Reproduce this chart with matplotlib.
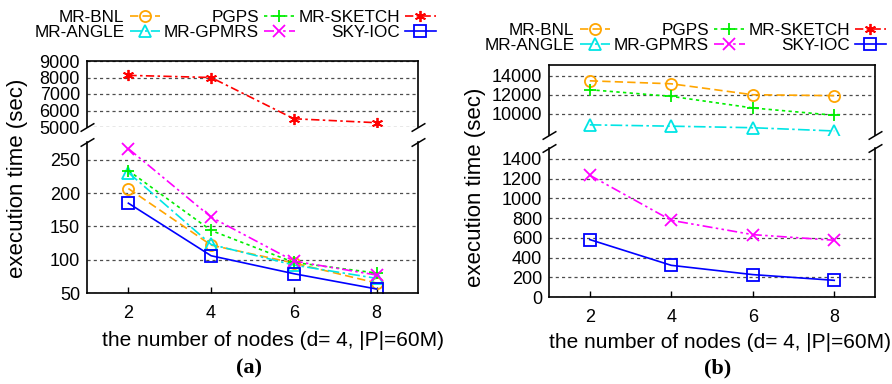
import matplotlib
matplotlib.use("Agg")
import matplotlib.pyplot as plt
from matplotlib.ticker import MultipleLocator

plt.rcParams['font.family'] = ['Liberation Sans', 'DejaVu Sans']

nodes = [2, 4, 6, 8]
series = ["MR-BNL", "MR-ANGLE", "PGPS", "MR-GPMRS", "MR-SKETCH", "SKY-IOC"]

# panel (a)
a_bnl = [207, 122, 95, 65]
a_angle = [231, 123, 92, 72]
a_pgps = [234, 144, 96, 80]
a_gpmrs = [267, 164, 98, 77]
a_sketch = [8130, 8000, 5500, 5260]
a_sky = [185, 106, 79, 56]

# panel (b)
b_bnl = [13450, 13140, 12000, 11900]
b_angle = [8860, 8720, 8560, 8220]
b_pgps = [12520, 11830, 10620, 9860]
b_gpmrs = [1234, 777, 632, 575]
b_sketch = []
b_sky = [582, 321, 227, 169]

styles = {
    "MR-BNL": dict(color='#FFA500', ls=(0, (5, 2.5)), marker='o'),
    "MR-ANGLE": dict(color='#00E5E5', ls=(0, (7, 2, 1.5, 2)), marker='^'),
    "PGPS": dict(color='#00EE00', ls=(0, (2, 2)), marker='+'),
    "MR-GPMRS": dict(color='#FF00FF', ls=(0, (6, 2, 1.5, 2, 1.5, 2)), marker='x'),
    "MR-SKETCH": dict(color='#FF0000', ls=(0, (5, 2, 1.5, 2)), marker=(6, 2, 0)),
    "SKY-IOC": dict(color='#0000FF', ls='-', marker='s'),
}

W, H = 892, 384
fig = plt.figure(figsize=(W / 100, H / 100), dpi=100)

def box(x0, x1, ytop, ybot):
    return [x0 / W, 1 - ybot / H, (x1 - x0) / W, (ybot - ytop) / H]

def style_axes(ax, top_part):
    for s in ax.spines.values():
        s.set_linewidth(1.2)
    if top_part:
        ax.spines['bottom'].set_visible(False)
        ax.tick_params(axis='x', which='both', bottom=False, labelbottom=False)
    else:
        ax.spines['top'].set_visible(False)
        ax.tick_params(axis='x', direction='in', length=4, width=1, labelsize=13, pad=9, top=False)
    ax.tick_params(axis='y', direction='in', length=0, labelsize=13, pad=5)
    ax.grid(axis='y', color='0.3', ls=(0, (2.5, 2.5)), lw=0.9)
    ax.set_axisbelow(True)
    ax.set_xlim(1, 9)
    ax.set_xticks(nodes)

def breaks(ax, y):
    kw = dict(transform=ax.transAxes, color='k', clip_on=False, lw=1.1,
              marker=[(-1, -0.6), (1, 0.6)], markersize=10, mew=1.1, ls='none')
    ax.plot([0, 1], [y, y], **kw)

def draw_panel(x0, x1, top_box, bot_box, top_lim, bot_lim, top_step, bot_step, data):
    axt = fig.add_axes(box(x0, x1, *top_box))
    axb = fig.add_axes(box(x0, x1, *bot_box))
    handles = {}
    for ax in (axt, axb):
        for name in series:
            st = styles[name]
            vals = data[name]
            xs = nodes[:len(vals)]
            ln, = ax.plot(xs, vals, color=st['color'], ls=st['ls'], lw=1.2,
                          marker=st['marker'], markersize=8, mfc='none', mew=1.3)
            handles[name] = ln
    axt.set_ylim(*top_lim)
    axb.set_ylim(*bot_lim)
    axt.yaxis.set_major_locator(MultipleLocator(top_step))
    axb.yaxis.set_major_locator(MultipleLocator(bot_step))
    style_axes(axt, True)
    style_axes(axb, False)
    breaks(axt, 0)
    breaks(axb, 1)
    return axt, axb, handles

dA = {"MR-BNL": a_bnl, "MR-ANGLE": a_angle, "PGPS": a_pgps,
      "MR-GPMRS": a_gpmrs, "MR-SKETCH": a_sketch, "SKY-IOC": a_sky}
dB = {"MR-BNL": b_bnl, "MR-ANGLE": b_angle, "PGPS": b_pgps,
      "MR-GPMRS": b_gpmrs, "MR-SKETCH": b_sketch, "SKY-IOC": b_sky}

at, ab, hA = draw_panel(87, 418, (61, 127), (142, 293), (5000, 9000), (50, 277), 1000, 50, dA)
at.set_yticks([5000, 6000, 7000, 8000, 9000])
bt, bb, hB = draw_panel(549, 875, (65, 135), (148, 297), (7800, 15100), (0, 1510), 2000, 200, dB)
bt.set_yticks([10000, 12000, 14000])

def legend(handles, cx, cy):
    fig.legend([handles[n] for n in series], series, loc='center',
               bbox_to_anchor=(cx / W, 1 - cy / H), ncol=3, frameon=False,
               markerfirst=False, fontsize=12.3, handlelength=1.8, handletextpad=0.3,
               columnspacing=0.2, labelspacing=0.05, borderpad=0, borderaxespad=0)

legend(hA, 235, 25)
legend(hB, 685, 38)

fig.text(18 / W, 1 - 178 / H, "execution time (sec)", rotation=90, ha='center', va='center', fontsize=16)
fig.text(475 / W, 1 - 187 / H, "execution time (sec)", rotation=90, ha='center', va='center', fontsize=16)
fig.text(273 / W, 1 - 340 / H, "the number of nodes (d= 4, |P|=60M)", ha='center', va='center', fontsize=15)
fig.text(720 / W, 1 - 342 / H, "the number of nodes (d= 4, |P|=60M)", ha='center', va='center', fontsize=15)
fig.text(249 / W, 1 - 368 / H, "(a)", ha='center', va='center', fontsize=16,
         family=['Liberation Serif'], weight='bold')
fig.text(718 / W, 1 - 368 / H, "(b)", ha='center', va='center', fontsize=16,
         family=['Liberation Serif'], weight='bold')

fig.savefig("out.png", dpi=100)
